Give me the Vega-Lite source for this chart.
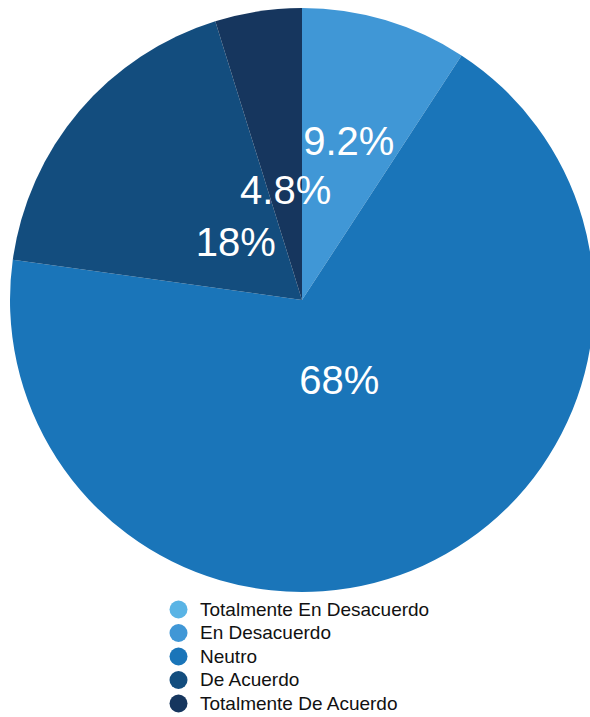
{
  "$schema": "https://vega.github.io/schema/vega-lite/v6.json",
  "autosize": "none",
  "width": 604,
  "height": 600,
  "padding": {"left": 0, "top": 0, "right": 0, "bottom": 117},
  "background": "white",
  "config": {"view": {"stroke": null}},
  "data": {
    "values": [
      {"Respuesta": "Totalmente En Desacuerdo", "orden": 1, "valor": 0},
      {"Respuesta": "En Desacuerdo", "orden": 2, "valor": 0.092},
      {"Respuesta": "Neutro", "orden": 3, "valor": 0.68},
      {"Respuesta": "De Acuerdo", "orden": 4, "valor": 0.18},
      {"Respuesta": "Totalmente De Acuerdo", "orden": 5, "valor": 0.048}
    ]
  },
  "encoding": {
    "theta": {"field": "valor", "type": "quantitative", "stack": true},
    "order": {"field": "orden", "type": "quantitative"}
  },
  "layer": [
    {
      "mark": {"type": "arc", "outerRadius": 292},
      "encoding": {
        "color": {
          "field": "Respuesta",
          "type": "nominal",
          "scale": {
            "domain": ["Totalmente En Desacuerdo", "En Desacuerdo", "Neutro", "De Acuerdo", "Totalmente De Acuerdo"],
            "range": ["#5ab4e5", "#4097d6", "#1a75b9", "#134d7e", "#16365e"]
          },
          "legend": {
            "title": null,
            "orient": "none",
            "legendX": 169,
            "legendY": 600,
            "symbolType": "circle",
            "symbolSize": 324,
            "symbolStrokeWidth": 0,
            "labelFont": "Liberation Sans",
            "labelFontSize": 19,
            "labelColor": "#111111",
            "labelOffset": 12,
            "rowPadding": 3.5,
            "labelLimit": 400
          }
        }
      }
    },
    {
      "transform": [{"filter": "datum.valor > 0"}],
      "mark": {
        "type": "text",
        "font": "Liberation Sans",
        "fontSize": 40,
        "color": "white",
        "align": "center",
        "baseline": "middle",
        "radius": {"expr": "datum.Respuesta == 'En Desacuerdo' ? 164 : datum.Respuesta == 'Neutro' ? 90 : datum.Respuesta == 'De Acuerdo' ? 87 : 109"}
      },
      "encoding": {
        "text": {"field": "valor", "type": "quantitative", "format": ".2~p"}
      }
    }
  ]
}
